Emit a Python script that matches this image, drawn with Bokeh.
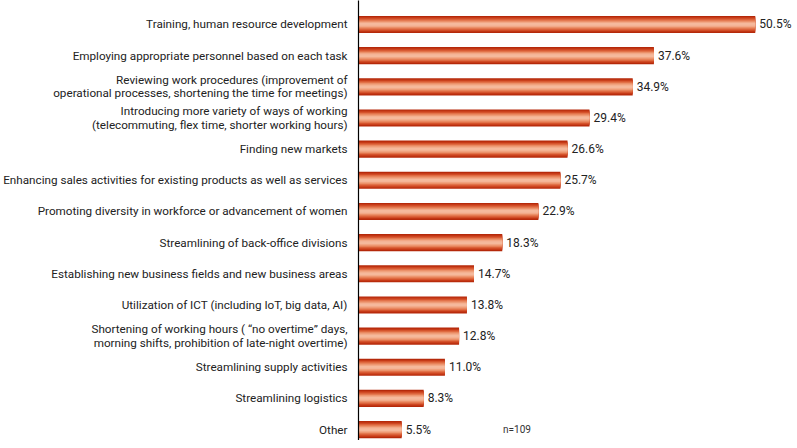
from bokeh.plotting import figure
from bokeh.models import ColumnDataSource, FixedTicker, Range1d, Label, LabelSet
from bokeh.core.properties import value
from bokeh.embed import file_html
from bokeh.resources import INLINE

categories = [
    "Training, human resource development",
    "Employing appropriate personnel based on each task",
    "Reviewing work procedures (improvement of\noperational processes, shortening the time for meetings)",
    "Introducing more variety of ways of working\n(telecommuting, flex time, shorter working hours)",
    "Finding new markets",
    "Enhancing sales activities for existing products as well as services",
    "Promoting diversity in workforce or advancement of women",
    "Streamlining of back-office divisions",
    "Establishing new business fields and new business areas",
    "Utilization of ICT (including IoT, big data, AI)",
    "Shortening of working hours ( \u201cno overtime\u201d days,\nmorning shifts, prohibition of late-night overtime)",
    "Streamlining supply activities",
    "Streamlining logistics",
    "Other",
]
values = [50.5, 37.6, 34.9, 29.4, 26.6, 25.7, 22.9, 18.3, 14.7, 13.8, 12.8, 11.0, 8.3, 5.5]
value_labels = ["%.1f%%" % v for v in values]
note = "n=109"

FONT = "Roboto"
ypos = list(range(len(categories)))
src = ColumnDataSource(dict(y=ypos, v=values, lab=value_labels))

p = figure(frame_width=437, frame_height=440, output_backend="svg", toolbar_location=None,
           x_range=Range1d(0, 55.62), y_range=Range1d(13.35, -0.77),
           min_border_left=352, min_border_right=0, min_border_top=0, min_border_bottom=0)
p.outline_line_color = None
p.xgrid.visible = False
p.ygrid.visible = False
p.xaxis.visible = False

# gradient-like bars built from stacked layers
bar_h = 0.55
layers = [(1.0, "#b5290a"), (0.86, "#c63a17"), (0.72, "#d5532c"), (0.58, "#e27249"),
          (0.44, "#eb9069"), (0.3, "#f2a886"), (0.16, "#f5b99c")]
for frac, col in layers:
    p.hbar(y="y", right="v", left=0, height=bar_h * frac, source=src,
           fill_color=col, line_color=None)

p.add_layout(LabelSet(x="v", y="y", text="lab", source=src, x_offset=4, text_baseline="middle",
                      text_align="left", text_font=value(FONT), text_font_size="12px",
                      text_color="#222222"))

p.add_layout(Label(x=18.4, y=13, text=note, text_font=FONT, text_font_size="10px",
                   text_baseline="middle", text_color="#333333"))

ax = p.yaxis[0]
ax.ticker = FixedTicker(ticks=ypos)
ax.major_label_overrides = {i: c for i, c in enumerate(categories)}
ax.major_tick_line_color = None
ax.minor_tick_line_color = None
ax.axis_line_color = "#000000"
ax.axis_line_width = 1.2
ax.major_label_standoff = 5
ax.major_label_text_font = FONT
ax.major_label_text_font_size = "11.7px"
ax.major_label_text_line_height = 0.95
ax.major_label_text_color = "#222222"

open("out.html", "w").write(file_html(p, INLINE))
